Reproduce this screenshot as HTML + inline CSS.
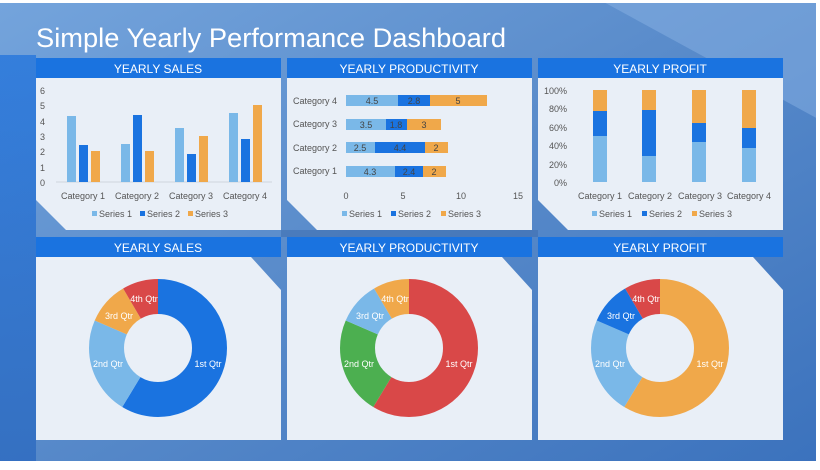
<!DOCTYPE html>
<html><head><meta charset="utf-8"><style>
body{margin:0;width:820px;height:465px;overflow:hidden;font-family:"Liberation Sans",sans-serif}
</style></head><body>
<svg width="820" height="465" viewBox="0 0 820 465" xmlns="http://www.w3.org/2000/svg" font-family="Liberation Sans, sans-serif">
<defs>
<linearGradient id="bg" x1="0" y1="0" x2="1" y2="1">
<stop offset="0" stop-color="#74a4dc"/><stop offset="0.45" stop-color="#5a8ccb"/><stop offset="1" stop-color="#3b72bd"/>
</linearGradient>
<linearGradient id="lf" x1="0" y1="0" x2="0" y2="1">
<stop offset="0" stop-color="#2a78dc"/><stop offset="1" stop-color="#2f6cc0"/>
</linearGradient>
</defs>
<rect width="820" height="465" fill="url(#bg)"/>
<polygon points="0,55 36,55 36,462 0,462" fill="url(#lf)" opacity="0.85"/>
<polygon points="600,0 820,0 820,120" fill="#8fb6e6" opacity="0.45"/>
<polygon points="281,230 538,230 538,237 281,237" fill="#3f6fb0" opacity="0.6"/>
<rect x="0" y="0" width="820" height="3" fill="#fff"/>
<rect x="0" y="461" width="820" height="4" fill="#fff"/>
<rect x="816" y="0" width="4" height="465" fill="#fff"/>
<text x="36" y="47" font-size="27" fill="#fff" textLength="470" lengthAdjust="spacingAndGlyphs">Simple Yearly Performance Dashboard</text>

<g id="panels">
<rect x="36" y="58" width="245" height="20" fill="#1a73e0"/>
<rect x="287" y="58" width="245" height="20" fill="#1a73e0"/>
<rect x="538" y="58" width="245" height="20" fill="#1a73e0"/>
<polygon points="36,78 281,78 281,230 66,230 36,200" fill="#e9eff7"/>
<polygon points="287,78 532,78 532,230 317,230 287,200" fill="#e9eff7"/>
<polygon points="538,78 783,78 783,230 568,230 538,200" fill="#e9eff7"/>
<rect x="36" y="237" width="245" height="20" fill="#1a73e0"/>
<rect x="287" y="237" width="245" height="20" fill="#1a73e0"/>
<rect x="538" y="237" width="245" height="20" fill="#1a73e0"/>
<polygon points="36,257 251,257 281,290 281,440 36,440" fill="#e9eff7"/>
<polygon points="287,257 502,257 532,290 532,440 287,440" fill="#e9eff7"/>
<polygon points="538,257 753,257 783,290 783,440 538,440" fill="#e9eff7"/>
<g fill="#fff" font-size="12" text-anchor="middle">
<text x="158" y="73">YEARLY SALES</text>
<text x="409" y="73">YEARLY PRODUCTIVITY</text>
<text x="660" y="73">YEARLY PROFIT</text>
<text x="158" y="252">YEARLY SALES</text>
<text x="409" y="252">YEARLY PRODUCTIVITY</text>
<text x="660" y="252">YEARLY PROFIT</text>
</g>
</g>

<g font-size="9" fill="#555">
<g text-anchor="start">
<text x="40" y="186">0</text><text x="40" y="171">1</text><text x="40" y="155">2</text><text x="40" y="140">3</text><text x="40" y="125">4</text><text x="40" y="109">5</text><text x="40" y="94">6</text>
</g>
<g text-anchor="middle">
<text x="83" y="199">Category 1</text><text x="137" y="199">Category 2</text><text x="191" y="199">Category 3</text><text x="245" y="199">Category 4</text>
</g>
</g>
<line x1="56" y1="182" x2="272" y2="182" stroke="#d0d6de"/>
<g>
<rect x="67" y="116" width="9" height="66" fill="#7ab8e8"/><rect x="79" y="145" width="9" height="37" fill="#1a73e0"/><rect x="91" y="151" width="9" height="31" fill="#f0a84a"/>
<rect x="121" y="144" width="9" height="38" fill="#7ab8e8"/><rect x="133" y="115" width="9" height="67" fill="#1a73e0"/><rect x="145" y="151" width="9" height="31" fill="#f0a84a"/>
<rect x="175" y="128" width="9" height="54" fill="#7ab8e8"/><rect x="187" y="154" width="9" height="28" fill="#1a73e0"/><rect x="199" y="136" width="9" height="46" fill="#f0a84a"/>
<rect x="229" y="113" width="9" height="69" fill="#7ab8e8"/><rect x="241" y="139" width="9" height="43" fill="#1a73e0"/><rect x="253" y="105" width="9" height="77" fill="#f0a84a"/>
</g>
<g font-size="9" fill="#555">
<rect x="92" y="211" width="5" height="5" fill="#7ab8e8"/><text x="99" y="217">Series 1</text>
<rect x="140" y="211" width="5" height="5" fill="#1a73e0"/><text x="147" y="217">Series 2</text>
<rect x="188" y="211" width="5" height="5" fill="#f0a84a"/><text x="195" y="217">Series 3</text>
</g>

<g font-size="9" fill="#555" text-anchor="end">
<text x="337" y="104">Category 4</text><text x="337" y="127">Category 3</text><text x="337" y="151">Category 2</text><text x="337" y="174">Category 1</text>
</g>
<g font-size="9" fill="#555" text-anchor="middle">
<text x="346" y="199">0</text><text x="403" y="199">5</text><text x="461" y="199">10</text><text x="518" y="199">15</text>
</g>
<g font-size="9" fill="#444" text-anchor="middle">
<rect x="346" y="95" width="52" height="11" fill="#7ab8e8"/><text x="372" y="104">4.5</text>
<rect x="398" y="95" width="32" height="11" fill="#1a73e0"/><text x="414" y="104">2.8</text>
<rect x="430" y="95" width="57" height="11" fill="#f0a84a"/><text x="458" y="104">5</text>
<rect x="346" y="119" width="40" height="11" fill="#7ab8e8"/><text x="366" y="128">3.5</text>
<rect x="386" y="119" width="21" height="11" fill="#1a73e0"/><text x="396" y="128">1.8</text>
<rect x="407" y="119" width="34" height="11" fill="#f0a84a"/><text x="424" y="128">3</text>
<rect x="346" y="142" width="29" height="11" fill="#7ab8e8"/><text x="360" y="151">2.5</text>
<rect x="375" y="142" width="50" height="11" fill="#1a73e0"/><text x="400" y="151">4.4</text>
<rect x="425" y="142" width="23" height="11" fill="#f0a84a"/><text x="436" y="151">2</text>
<rect x="346" y="166" width="49" height="11" fill="#7ab8e8"/><text x="370" y="175">4.3</text>
<rect x="395" y="166" width="28" height="11" fill="#1a73e0"/><text x="409" y="175">2.4</text>
<rect x="423" y="166" width="23" height="11" fill="#f0a84a"/><text x="434" y="175">2</text>
</g>
<g font-size="9" fill="#555">
<rect x="342" y="211" width="5" height="5" fill="#7ab8e8"/><text x="349" y="217">Series 1</text>
<rect x="391" y="211" width="5" height="5" fill="#1a73e0"/><text x="398" y="217">Series 2</text>
<rect x="441" y="211" width="5" height="5" fill="#f0a84a"/><text x="448" y="217">Series 3</text>
</g>

<g font-size="9" fill="#555" text-anchor="end">
<text x="567" y="186">0%</text><text x="567" y="168">20%</text><text x="567" y="149">40%</text><text x="567" y="131">60%</text><text x="567" y="112">80%</text><text x="567" y="94">100%</text>
</g>
<g font-size="9" fill="#555" text-anchor="middle">
<text x="600" y="199">Category 1</text><text x="650" y="199">Category 2</text><text x="700" y="199">Category 3</text><text x="749" y="199">Category 4</text>
</g>
<g>
<rect x="593" y="136" width="14" height="46" fill="#7ab8e8"/><rect x="593" y="111" width="14" height="25" fill="#1a73e0"/><rect x="593" y="90" width="14" height="21" fill="#f0a84a"/>
<rect x="642" y="156" width="14" height="26" fill="#7ab8e8"/><rect x="642" y="110" width="14" height="46" fill="#1a73e0"/><rect x="642" y="90" width="14" height="20" fill="#f0a84a"/>
<rect x="692" y="142" width="14" height="40" fill="#7ab8e8"/><rect x="692" y="123" width="14" height="19" fill="#1a73e0"/><rect x="692" y="90" width="14" height="33" fill="#f0a84a"/>
<rect x="742" y="148" width="14" height="34" fill="#7ab8e8"/><rect x="742" y="128" width="14" height="20" fill="#1a73e0"/><rect x="742" y="90" width="14" height="38" fill="#f0a84a"/>
</g>
<g font-size="9" fill="#555">
<rect x="592" y="211" width="5" height="5" fill="#7ab8e8"/><text x="599" y="217">Series 1</text>
<rect x="642" y="211" width="5" height="5" fill="#1a73e0"/><text x="649" y="217">Series 2</text>
<rect x="692" y="211" width="5" height="5" fill="#f0a84a"/><text x="699" y="217">Series 3</text>
</g>

<g fill="none" stroke-width="35">
<g transform="translate(158,348) rotate(-90)">
<circle r="51.5" stroke="#1a73e0" stroke-dasharray="189.6 400"/>
<circle r="51.5" stroke="#7ab8e8" stroke-dasharray="73.9 400" stroke-dashoffset="-189.6"/>
<circle r="51.5" stroke="#f0a84a" stroke-dasharray="32.4 400" stroke-dashoffset="-263.5"/>
<circle r="51.5" stroke="#d94848" stroke-dasharray="27.7 400" stroke-dashoffset="-295.9"/>
</g>
<g transform="translate(409,348) rotate(-90)">
<circle r="51.5" stroke="#d94848" stroke-dasharray="189.6 400"/>
<circle r="51.5" stroke="#4caf50" stroke-dasharray="73.9 400" stroke-dashoffset="-189.6"/>
<circle r="51.5" stroke="#7ab8e8" stroke-dasharray="32.4 400" stroke-dashoffset="-263.5"/>
<circle r="51.5" stroke="#f0a84a" stroke-dasharray="27.7 400" stroke-dashoffset="-295.9"/>
</g>
<g transform="translate(660,348) rotate(-90)">
<circle r="51.5" stroke="#f0a84a" stroke-dasharray="189.6 400"/>
<circle r="51.5" stroke="#7ab8e8" stroke-dasharray="73.9 400" stroke-dashoffset="-189.6"/>
<circle r="51.5" stroke="#1a73e0" stroke-dasharray="32.4 400" stroke-dashoffset="-263.5"/>
<circle r="51.5" stroke="#d94848" stroke-dasharray="27.7 400" stroke-dashoffset="-295.9"/>
</g>
</g>
<g font-size="9" fill="#fff" text-anchor="middle">
<text x="208" y="367">1st Qtr</text><text x="108" y="367">2nd Qtr</text><text x="119" y="319">3rd Qtr</text><text x="144" y="302">4th Qtr</text>
<text x="459" y="367">1st Qtr</text><text x="359" y="367">2nd Qtr</text><text x="370" y="319">3rd Qtr</text><text x="395" y="302">4th Qtr</text>
<text x="710" y="367">1st Qtr</text><text x="610" y="367">2nd Qtr</text><text x="621" y="319">3rd Qtr</text><text x="646" y="302">4th Qtr</text>
</g>
</svg>
</body></html>
